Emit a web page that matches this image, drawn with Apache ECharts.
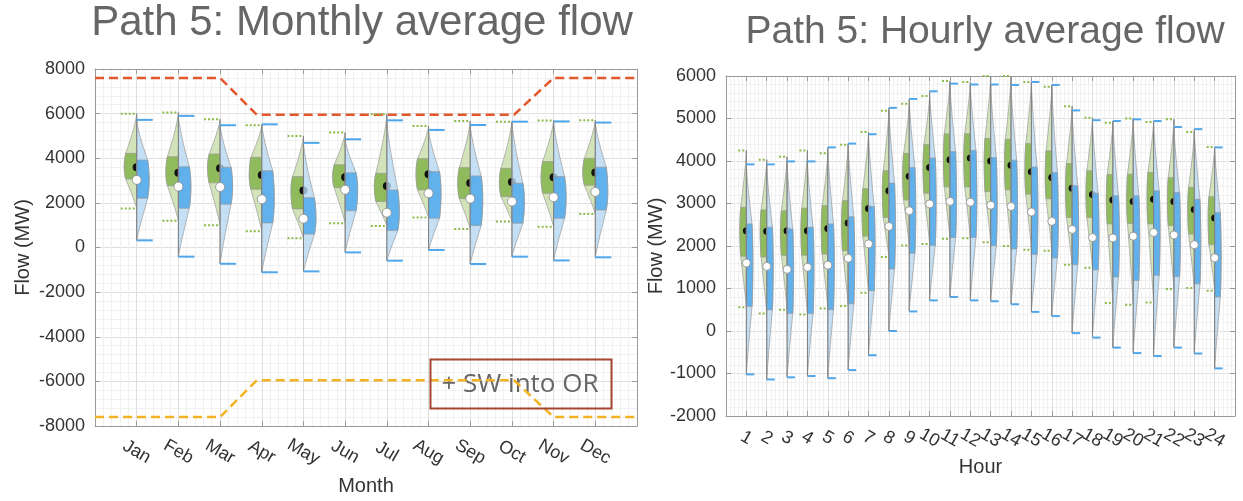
<!DOCTYPE html>
<html>
<head>
<meta charset="utf-8">
<script src="https://cdn.jsdelivr.net/npm/echarts@6/dist/echarts.min.js"></script>
<style>
html, body { margin: 0; padding: 0; background: #fff; }
#chart { width: 1243px; height: 501px; }
</style>
</head>
<body>
<div id="chart"></div>
<script>
// every row is [min, q1, median, q3, max] in MW
var monthNames = ['Jan', 'Feb', 'Mar', 'Apr', 'May', 'Jun', 'Jul', 'Aug', 'Sep', 'Oct', 'Nov', 'Dec'];
var monthGreen = [
	[1750, 3070, 3600, 4220, 6000],
	[1200, 2770, 3350, 4070, 6050],
	[1000, 2900, 3550, 4190, 5750],
	[730, 2610, 3250, 4040, 5480],
	[410, 1730, 2550, 3180, 5000],
	[1090, 2680, 3150, 3710, 5150],
	[960, 2060, 2760, 3330, 5970],
	[1340, 2580, 3280, 3980, 5450],
	[830, 2190, 2890, 3580, 5670],
	[1160, 2280, 2940, 3550, 5640],
	[930, 2430, 3150, 3850, 5690],
	[1500, 2790, 3360, 4000, 5700]
];
var monthBlue = [
	[320, 2210, 3030, 3920, 5720],
	[-410, 1760, 2730, 3620, 5900],
	[-730, 1940, 2710, 3600, 5480],
	[-1110, 1100, 2160, 3440, 5520],
	[-1070, 600, 1290, 2230, 4690],
	[-220, 1650, 2590, 3350, 4850],
	[-590, 760, 1560, 2580, 5700],
	[-110, 1310, 2430, 3400, 5270],
	[-740, 990, 2190, 3210, 5490],
	[-410, 1090, 2060, 2880, 5640],
	[-580, 1310, 2250, 3180, 5650],
	[-440, 1680, 2490, 3600, 5600]
];
var hourLabels = ['1', '2', '3', '4', '5', '6', '7', '8', '9', '10', '11', '12',
	'13', '14', '15', '16', '17', '18', '19', '20', '21', '22', '23', '24'];
var hourGreen = [
	[560, 1760, 2360, 2910, 4250],
	[410, 1740, 2350, 2850, 4030],
	[500, 1780, 2360, 2830, 4100],
	[390, 1780, 2360, 2890, 4250],
	[530, 1810, 2410, 2950, 4180],
	[590, 1890, 2540, 3070, 4380],
	[900, 2230, 2880, 3350, 4680],
	[1740, 2670, 3300, 3770, 5180],
	[2010, 3080, 3640, 4180, 5350],
	[2050, 3240, 3850, 4390, 5530],
	[2170, 3390, 4030, 4640, 5880],
	[2180, 3390, 4070, 4640, 5860],
	[2090, 3280, 4000, 4530, 6000],
	[2000, 3320, 3900, 4510, 6000],
	[1910, 3220, 3750, 4410, 5860],
	[1890, 3110, 3610, 4240, 5750],
	[1560, 2670, 3360, 3940, 5290],
	[1490, 2670, 3210, 3770, 5020],
	[660, 2520, 3080, 3680, 4900],
	[620, 2530, 3050, 3690, 5000],
	[670, 2520, 3100, 3730, 4920],
	[990, 2480, 3050, 3610, 4980],
	[1010, 2280, 2860, 3380, 4680],
	[950, 2030, 2660, 3160, 4330]
];
var hourBlue = [
	[-1020, 580, 1600, 2520, 3920],
	[-1140, 500, 1520, 2440, 3920],
	[-1090, 410, 1450, 2400, 3990],
	[-1060, 410, 1500, 2440, 3990],
	[-1110, 500, 1550, 2520, 4320],
	[-920, 640, 1710, 2690, 4410],
	[-570, 950, 2050, 2930, 4630],
	[0, 1460, 2460, 3480, 5250],
	[460, 1830, 2830, 3850, 5460],
	[720, 2010, 2990, 4070, 5640],
	[800, 2200, 3050, 4220, 5820],
	[720, 2200, 3030, 4250, 5800],
	[700, 2010, 2960, 4080, 5800],
	[630, 1930, 2930, 4020, 5790],
	[450, 1800, 2800, 3860, 5860],
	[350, 1720, 2580, 3730, 5790],
	[-50, 1560, 2390, 3420, 5190],
	[-155, 1440, 2200, 3240, 4960],
	[-390, 1270, 2190, 3180, 4940],
	[-520, 1190, 2230, 3180, 4980],
	[-590, 1310, 2320, 3300, 4940],
	[-390, 1280, 2260, 3260, 4800],
	[-530, 1110, 2030, 3100, 4750],
	[-880, 800, 1720, 2790, 4320]
];
// transfer limits on the monthly plot
var limitX = [0, 3, 3.88, 10.05, 11, 13];
var upperLimit = [7600, 7600, 5950, 5950, 7600, 7600];
var lowerLimit = [-7600, -7600, -5950, -5950, -7600, -7600];

var FONT = 'Liberation Sans, Arial, sans-serif';
var chart = echarts.init(document.getElementById('chart'));

// relative half width of a violin at value v
function profile(q, v) {
	if (v >= q[2]) {
		if (v <= q[3]) {
			var t = (v - q[2]) / (q[3] - q[2]);
			return 1 - 0.12 * t * t;
		}
		var s = (v - q[3]) / (q[4] - q[3]);
		return 0.88 * Math.pow(Math.max(0, 1 - s), 1.3);
	}
	if (v >= q[1]) {
		var t2 = (q[2] - v) / (q[2] - q[1]);
		return 1 - 0.12 * t2 * t2;
	}
	var s2 = (q[1] - v) / (q[1] - q[0]);
	return 0.88 * Math.pow(Math.max(0, 1 - s2), 1.1);
}

function violinRenderer(greens, blues, halfWidth, capLen, dotR) {
	return function (params, api) {
		var i = params.dataIndex;
		var g = greens[i], b = blues[i];
		var xv = api.value(0);
		var cx = api.coord([xv, 0])[0];
		function py(v) { return api.coord([xv, v])[1]; }
		function half(q, side, from, to) {
			var pts = [[cx, py(from)]];
			var n = 48;
			for (var k = 0; k <= n; k++) {
				var v = from + (to - from) * k / n;
				pts.push([cx + side * halfWidth * profile(q, v), py(v)]);
			}
			pts.push([cx, py(to)]);
			return pts;
		}
		var edge = '#9a9a9a';
		var top = Math.max(g[4], b[4]), bottom = Math.min(g[0], b[0]);
		var kids = [
			{ type: 'polygon', shape: { points: half(g, -1, g[0], g[4]) }, style: { fill: 'rgba(200,221,170,0.8)', stroke: edge, lineWidth: 0.7 } },
			{ type: 'polygon', shape: { points: half(g, -1, g[1], g[3]) }, style: { fill: '#8fbb5c', stroke: edge, lineWidth: 0.7 } },
			{ type: 'circle', shape: { cx: cx, cy: py(g[2]), r: dotR }, style: { fill: '#111' } },
			{ type: 'polygon', shape: { points: half(b, 1, b[0], b[4]) }, style: { fill: 'rgba(182,216,243,0.8)', stroke: edge, lineWidth: 0.7 } },
			{ type: 'polygon', shape: { points: half(b, 1, b[1], b[3]) }, style: { fill: 'rgba(88,172,236,0.92)', stroke: edge, lineWidth: 0.7 } },
			{ type: 'line', shape: { x1: cx, y1: py(top), x2: cx, y2: py(bottom) }, style: { stroke: '#808080', lineWidth: 1 } },
			{ type: 'line', shape: { x1: cx - capLen, y1: py(g[4]), x2: cx - 2, y2: py(g[4]) }, style: { stroke: '#8cbb4a', lineWidth: 2, lineDash: [2, 2] } },
			{ type: 'line', shape: { x1: cx - capLen, y1: py(g[0]), x2: cx - 2, y2: py(g[0]) }, style: { stroke: '#8cbb4a', lineWidth: 2, lineDash: [2, 2] } },
			{ type: 'line', shape: { x1: cx, y1: py(b[4]), x2: cx + capLen, y2: py(b[4]) }, style: { stroke: '#4fa6ea', lineWidth: 2 } },
			{ type: 'line', shape: { x1: cx, y1: py(b[0]), x2: cx + capLen, y2: py(b[0]) }, style: { stroke: '#4fa6ea', lineWidth: 2 } },
			{ type: 'circle', shape: { cx: cx, cy: py(b[2]), r: dotR + 0.5 }, style: { fill: '#fff', stroke: '#8a8a8a', lineWidth: 0.8 } }
		];
		return { type: 'group', children: kids };
	};
}

function xAxes(gridIndex, max, labels, name, nameGap, margin) {
	return [{
		type: 'value', gridIndex: gridIndex, min: 0, max: max, interval: 1,
		name: name, nameLocation: 'middle', nameGap: nameGap,
		nameTextStyle: { fontSize: 20, color: '#333', fontFamily: FONT },
		axisLine: { show: true, onZero: false, lineStyle: { color: '#9a9a9a' } },
		axisTick: { show: true, inside: true, length: 5, lineStyle: { color: '#9a9a9a' } },
		axisLabel: {
			rotate: -30, align: 'center', verticalAlign: 'middle', margin: margin,
			fontSize: 18, color: '#333', fontFamily: FONT,
			showMinLabel: true, showMaxLabel: true,
			formatter: function (v) { return (v >= 1 && v <= labels.length) ? labels[v - 1] : ''; }
		},
		splitLine: { show: true, lineStyle: { color: '#dedede' } },
		minorTick: { show: false, splitNumber: 5 },
		minorSplitLine: { show: true, lineStyle: { color: '#f1f1f1' } }
	}, {
		type: 'value', gridIndex: gridIndex, position: 'top', min: 0, max: max, interval: 1,
		axisLine: { show: true, onZero: false, lineStyle: { color: '#9a9a9a' } },
		axisTick: { show: true, inside: true, length: 5, lineStyle: { color: '#9a9a9a' } },
		axisLabel: { show: false }, splitLine: { show: false }
	}];
}

function yAxes(gridIndex, min, max, interval, nameGap) {
	return [{
		type: 'value', gridIndex: gridIndex, min: min, max: max, interval: interval,
		name: 'Flow (MW)', nameLocation: 'middle', nameGap: nameGap,
		nameTextStyle: { fontSize: 20, color: '#333', fontFamily: FONT },
		axisLine: { show: true, onZero: false, lineStyle: { color: '#9a9a9a' } },
		axisTick: { show: true, inside: true, length: 5, lineStyle: { color: '#9a9a9a' } },
		axisLabel: { fontSize: 18, color: '#333', fontFamily: FONT, margin: 10, formatter: function (v) { return String(v); } },
		splitLine: { show: true, lineStyle: { color: '#dedede' } },
		minorTick: { show: false, splitNumber: 5 },
		minorSplitLine: { show: true, lineStyle: { color: '#f1f1f1' } }
	}, {
		type: 'value', gridIndex: gridIndex, position: 'right', min: min, max: max, interval: interval,
		axisLine: { show: true, onZero: false, lineStyle: { color: '#9a9a9a' } },
		axisTick: { show: true, inside: true, length: 5, lineStyle: { color: '#9a9a9a' } },
		axisLabel: { show: false }, splitLine: { show: false }
	}];
}

option = {
	backgroundColor: '#fff',
	animation: false,
	grid: [
		{ left: 95, top: 69, width: 542, height: 357 },
		{ left: 726, top: 76, width: 509, height: 340 }
	],
	xAxis: xAxes(0, 13, monthNames, 'Month', 50, 26).concat(xAxes(1, 25, hourLabels, 'Hour', 40, 22)),
	yAxis: yAxes(0, -8000, 8000, 2000, 62).concat(yAxes(1, -2000, 6000, 1000, 54)),
	graphic: [
		{ type: 'text', x: 362, y: 23, z: 100, style: { text: 'Path 5: Monthly average flow', font: '42px ' + FONT, fill: '#666', align: 'center', verticalAlign: 'middle' } },
		{ type: 'text', x: 985, y: 32, z: 100, style: { text: 'Path 5: Hourly average flow', font: '39px ' + FONT, fill: '#666', align: 'center', verticalAlign: 'middle' } },
		{ type: 'text', x: 520, y: 385, z: 1, style: { text: '+ SW into OR', font: '26px "Open Sans", sans-serif', fill: '#666', align: 'center', verticalAlign: 'middle' } },
		{ type: 'rect', z: 100, shape: { x: 430.5, y: 359.5, width: 181, height: 49 }, style: { fill: null, stroke: '#a5452f', lineWidth: 2, lineDash: null } }
	],
	series: [
		{
			type: 'line', xAxisIndex: 0, yAxisIndex: 0, symbol: 'none', z: 3,
			data: limitX.map(function (x, i) { return [x, upperLimit[i]]; }),
			lineStyle: { color: '#e2572b', width: 2.5, type: [9, 5] }
		},
		{
			type: 'line', xAxisIndex: 0, yAxisIndex: 0, symbol: 'none', z: 3,
			data: limitX.map(function (x, i) { return [x, lowerLimit[i]]; }),
			lineStyle: { color: '#f2b224', width: 2.5, type: [9, 5] }
		},
		{
			type: 'custom', xAxisIndex: 0, yAxisIndex: 0, z: 4,
			renderItem: violinRenderer(monthGreen, monthBlue, 12.5, 16, 4),
			encode: { x: 0, y: 1 },
			data: monthNames.map(function (m, i) { return [i + 1, monthGreen[i][2]]; })
		},
		{
			type: 'custom', xAxisIndex: 2, yAxisIndex: 2, z: 4,
			renderItem: violinRenderer(hourGreen, hourBlue, 6.5, 8, 3.5),
			encode: { x: 0, y: 1 },
			data: hourLabels.map(function (h, i) { return [i + 1, hourGreen[i][2]]; })
		}
	]
};

chart.setOption(option);
</script>
</body>
</html>
